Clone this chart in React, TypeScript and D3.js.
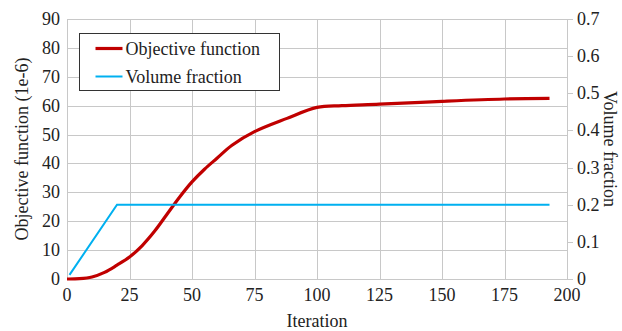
import React, { useEffect, useRef } from 'react';
import * as d3 from 'd3';

// objective function (1e-6)
const objIter = [0, 5, 10, 15, 20, 25, 30, 35, 40, 45, 50, 55, 60, 66, 75, 88, 100, 110, 125, 150, 175, 193];
const objValue = [0, 0.1, 0.7, 2.3, 4.8, 7.6, 11.5, 16.5, 22.4, 28.3, 33.6, 38, 41.8, 46.3, 51, 55.6, 59.4, 60, 60.5, 61.5, 62.3, 62.5];

// volume fraction
const volIter = [1, 20, 193];
const volValue = [0.011, 0.2, 0.2];

const xTicks = [0, 25, 50, 75, 100, 125, 150, 175, 200];
const yLeftTicks = [0, 10, 20, 30, 40, 50, 60, 70, 80, 90];
const yRightTicks = [0, 0.1, 0.2, 0.3, 0.4, 0.5, 0.6, 0.7];

const FONT = "'Liberation Serif', 'Times New Roman', Times, 'DejaVu Serif', serif";

const App: React.FC = () => {
  const svgRef = useRef<SVGSVGElement>(null);

  useEffect(() => {
    if (!svgRef.current) return;
    const svg = d3.select(svgRef.current);
    svg.selectAll('*').remove();

    const width = 622;
    const height = 331;
    const margin = { top: 19, right: 55, bottom: 52, left: 67 };

    const x = d3.scaleLinear().domain([0, 200]).range([margin.left, width - margin.right]);
    const yL = d3.scaleLinear().domain([0, 90]).range([height - margin.bottom, margin.top]);
    const yR = d3.scaleLinear().domain([0, 0.7]).range([height - margin.bottom, margin.top]);

    svg.attr('width', width).attr('height', height);

    // Grid
    const grid = svg.append('g').attr('stroke', '#c8c8c8').attr('stroke-width', 1);
    xTicks.forEach(t => {
      grid.append('line')
        .attr('x1', Math.round(x(t)) + 0.5).attr('x2', Math.round(x(t)) + 0.5)
        .attr('y1', yL(0)).attr('y2', yL(90));
    });
    yLeftTicks.forEach(t => {
      grid.append('line')
        .attr('x1', x(0)).attr('x2', x(200))
        .attr('y1', Math.round(yL(t)) + 0.5).attr('y2', Math.round(yL(t)) + 0.5);
    });

    // Right axis small ticks
    yRightTicks.forEach(t => {
      grid.append('line')
        .attr('x1', x(200)).attr('x2', x(200) + 6)
        .attr('y1', Math.round(yR(t)) + 0.5).attr('y2', Math.round(yR(t)) + 0.5);
    });

    const txt = svg.append('g').style('font-family', FONT).attr('font-size', 18).attr('fill', '#222');

    // Tick labels
    txt.append('g').selectAll('text').data(xTicks).enter().append('text')
      .attr('x', d => x(d)).attr('y', yL(0) + 22)
      .attr('text-anchor', 'middle')
      .text(d => d);

    txt.append('g').selectAll('text').data(yLeftTicks).enter().append('text')
      .attr('x', x(0) - 7).attr('y', d => yL(d) + 6)
      .attr('text-anchor', 'end')
      .text(d => d);

    txt.append('g').selectAll('text').data(yRightTicks).enter().append('text')
      .attr('x', x(200) + 10).attr('y', d => yR(d) + 6)
      .attr('text-anchor', 'start')
      .text(d => d === 0 ? '0' : d3.format('.1f')(d));

    // Axis titles
    txt.append('text')
      .attr('transform', `translate(${x(100)}, ${height - 4})`)
      .attr('text-anchor', 'middle')
      .text('Iteration');

    txt.append('text')
      .attr('transform', `translate(28, ${(yL(0) + yL(90)) / 2}) rotate(-90)`)
      .attr('text-anchor', 'middle')
      .text('Objective function (1e-6)');

    txt.append('text')
      .attr('transform', `translate(604, ${(yL(0) + yL(90)) / 2}) rotate(90)`)
      .attr('text-anchor', 'middle')
      .text('Volume fraction');

    // Lines
    const objLine = d3.line<number>()
      .x((_, i) => x(objIter[i]))
      .y(d => yL(d))
      .curve(d3.curveCatmullRom.alpha(0.5));
    svg.append('path')
      .datum(objValue)
      .attr('d', objLine)
      .attr('fill', 'none').attr('stroke', '#c00000').attr('stroke-width', 3.2);

    const volLine = d3.line<number>()
      .x((_, i) => x(volIter[i]))
      .y(d => yR(d));
    svg.append('path')
      .datum(volValue)
      .attr('d', volLine)
      .attr('fill', 'none').attr('stroke', '#00b0f0').attr('stroke-width', 2);

    // Legend
    const lg = svg.append('g').attr('transform', 'translate(79.5, 33.5)');
    lg.append('rect')
      .attr('width', 200).attr('height', 57)
      .attr('fill', '#fff').attr('stroke', '#333').attr('stroke-width', 1);
    const items = [
      { label: 'Objective function', color: '#c00000', w: 3.2 },
      { label: 'Volume fraction', color: '#00b0f0', w: 2 },
    ];
    items.forEach((it, i) => {
      const cy = 15 + i * 28;
      lg.append('line')
        .attr('x1', 16).attr('x2', 43).attr('y1', cy).attr('y2', cy)
        .attr('stroke', it.color).attr('stroke-width', it.w);
      lg.append('text')
        .attr('x', 46).attr('y', cy + 6)
        .style('font-family', FONT).attr('font-size', 18).attr('fill', '#222')
        .text(it.label);
    });
  }, []);

  return (
    <div style={{ position: 'absolute', left: 0, top: 0 }}>
      <svg ref={svgRef} style={{ display: 'block' }}></svg>
    </div>
  );
};

export default App;
